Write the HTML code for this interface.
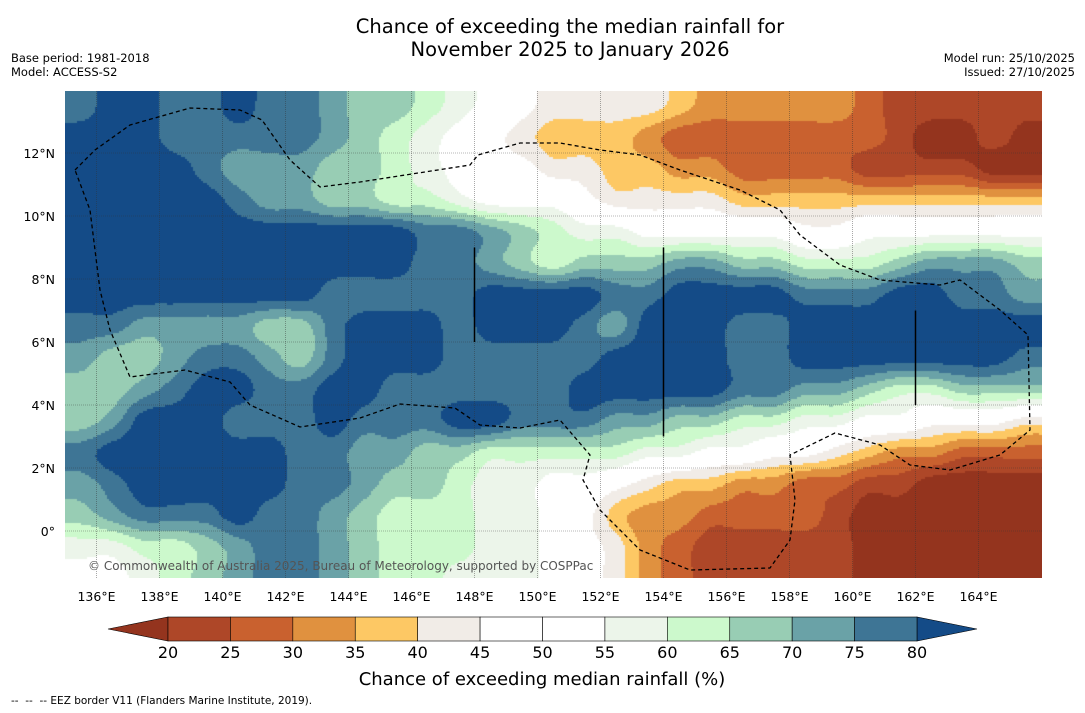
<!DOCTYPE html>
<html><head><meta charset="utf-8"><style>
body{margin:0;background:#fff;width:1085px;height:713px;overflow:hidden;font-family:"DejaVu Sans","Liberation Sans",sans-serif;}
.t{position:absolute;white-space:nowrap;color:#000}
</style></head><body>
<div class="t" style="left:0;width:1140px;text-align:center;top:15px;font-size:19.5px;line-height:23px">Chance of exceeding the median rainfall for<br>November 2025 to January 2026</div>
<div class="t" style="left:11px;top:51px;font-size:11.5px;line-height:14px">Base period: 1981-2018<br>Model: ACCESS-S2</div>
<div class="t" style="right:10px;top:51px;font-size:11.5px;line-height:14px;text-align:right">Model run: 25/10/2025<br>Issued: 27/10/2025</div>
<canvas id="map" width="977" height="487" style="position:absolute;left:65px;top:91px"></canvas>
<svg id="ov" width="1085" height="713" style="position:absolute;left:0;top:0"></svg>
<div class="t" style="left:11px;top:695px;font-size:10.5px">--&nbsp; --&nbsp; -- EEZ border V11 (Flanders Marine Institute, 2019).</div>
<script>
const lons=[135,136,137,138,139,140,141,142,143,144,145,146,147,148,149,150,151,152,153,154,155,156,157,158,159,160,161,162,163,164,165];
const lats=[13.5,12.5,11.5,10.5,9.5,8.5,7.5,6.5,5.5,4.5,3.5,2.5,1.5,0.5,-0.5,-1.5];
// probability class index (0:<20,1:20-25,...,13:>80) per lat row, lon 135..165
const r0=[12,13,13,12,12,13,12,12,11,10,10,9,8,7,6, 5,5,5,5,4,3,3,3,3,3,2,1,1,1,1,1];
const r1=[13,13,13,12,12,12,12,12,11,10,9,8,7,6,5, 4,4,4,3,2,2,2,2,2,2,2,1,0,0,1,0];
const r2=[13,13,13,13,12,11,11,11,10,10,9,8,7,6,6, 5,5,4,4,3,3,2,2,2,2,1,1,1,1,0,0];
const r3=[13,13,13,13,13,12,11,11,10,10,9,9,8,7,7, 7,6,5,5,5,5,4,4,4,4,4,4,4,4,4,4];
const r4=[13,13,13,13,13,13,13,13,13,13,13,12,12,11,10, 9,8,8,7,7,7,7,7,6,6,7,7,7,7,7,7];
const r5=[13,13,13,13,13,13,13,13,13,13,13,12,12,11,10, 9,10,10,10,11,11,10,10,9,9,9,10,11,11,11,10];
const r6=[13,13,13,13,13,13,13,13,12,12,12,12,12,13,13, 13,13,12,12,13,13,13,13,12,12,12,13,13,12,12,11];
const r7=[12,12,11,11,11,11,10,10,12,13,13,13,12,13,13, 13,12,11,13,13,13,12,12,13,13,13,13,13,13,13,13];
const r8=[11,10,10,11,12,12,11,10,12,13,13,13,12,12,12, 12,12,13,13,13,13,12,12,13,13,13,13,13,13,13,12];
const r9=[10,10,11,12,13,13,12,12,13,13,12,12,12,12,12, 12,13,13,13,13,13,12,12,11,11,10,9,9,10,10,10];
const r10=[10,11,13,13,13,12,12,12,13,12,12,12,13,13,12, 12,12,11,11,10,10,9,9,8,8,7,7,6,6,6,5];
const r11=[12,13,13,13,13,13,13,12,12,11,11,10,10,9,9, 9,9,9,8,8,7,7,6,6,5,4,3,3,2,2,2];
const r12=[11,12,13,13,13,13,13,12,12,11,10,10,9,8,8, 7,7,6,5,4,4,3,3,2,2,1,1,0,0,0,0];
const r13=[10,11,12,12,12,13,12,12,11,10,9,9,9,8,8, 7,6,4,3,3,2,2,2,2,1,0,0,0,0,0,0];
const r14=[8,8,9,9,10,11,12,12,11,10,9,9,9,8,8, 7,6,5,3,2,1,1,1,1,1,0,0,0,0,0,0];
const r15=[7,7,8,9,10,11,12,12,11,10,9,9,8,8,8, 7,6,5,3,2,1,1,1,1,1,0,0,0,0,0,0];
const rows=[r0,r1,r2,r3,r4,r5,r6,r7,r8,r9,r10,r11,r12,r13,r14,r15];
const cbTicks=[20,25,30,35,40,45,50,55,60,65,70,75,80];
const colors=["#94341e","#ae4728","#c9612f","#e0913f","#fdc864","#f1ece7","#ffffff","#ffffff","#ecf5ea","#ccf9cc","#98cdb4","#6aa2a7","#3e7595","#144b87"];
const lonTicks=[136,138,140,142,144,146,148,150,152,154,156,158,160,162,164];
const latTicks=[0,2,4,6,8,10,12];

const X0=65,Y0=91,W=977,H=487,PX=31.5;
const xs=lon=>X0+(lon-135)*PX;
const ys=lat=>531-lat*PX;
const NS="http://www.w3.org/2000/svg";
const svg=document.getElementById('ov');


const cv=document.getElementById('map');


const ctx=cv.getContext('2d');
function g(j,i){j=Math.max(0,Math.min(lats.length-1,j));i=Math.max(0,Math.min(lons.length-1,i));return 17.5+5*rows[j][i];}
function cr(p0,p1,p2,p3,t){return 0.5*((2*p1)+(-p0+p2)*t+(2*p0-5*p1+4*p2-p3)*t*t+(-p0+3*p1-3*p2+p3)*t*t*t);}
function val(lon,lat){
  const fi=lon-135.5, fj=13.5-lat;
  const i=Math.floor(fi),j=Math.floor(fj),a=fi-i,b=fj-j;
  const r=[];
  for(let k=-1;k<=2;k++) r.push(cr(g(j+k,i-1),g(j+k,i),g(j+k,i+1),g(j+k,i+2),a));
  return cr(r[0],r[1],r[2],r[3],b);
}
const S=2;
for(let py=0;py<H;py+=S){for(let px=0;px<W;px+=S){
  const lon=135+(px+S/2)/PX, lat=(531-(Y0+py+S/2))/PX;
  const v=val(lon,lat);
  let c=Math.floor((v-15)/5); c=Math.max(0,Math.min(13,c));
  ctx.fillStyle=colors[c]; ctx.fillRect(px,py,S,S);
}}
function el(tag,attrs,name,text){const e=document.createElementNS(NS,tag);for(const k in attrs)e.setAttribute(k,attrs[k]);
 
 
 if(text!==undefined)e.textContent=text;svg.appendChild(e);return e;}
const FF='DejaVu Sans, Liberation Sans, sans-serif';
lonTicks.forEach(l=>{const x=xs(l);el('line',{x1:x,y1:Y0,x2:x,y2:Y0+H,stroke:'#333','stroke-width':0.6,'stroke-dasharray':'1,1','stroke-opacity':0.7},'lon-gridline');
 el('text',{x:x,y:601,'font-size':12.5,'text-anchor':'middle','font-family':FF},'lon-tick-label',l+'°E');});
latTicks.forEach(l=>{const y=ys(l);el('line',{x1:X0,y1:y,x2:X0+W,y2:y,stroke:'#333','stroke-width':0.6,'stroke-dasharray':'1,1','stroke-opacity':0.7},'lat-gridline');
 el('text',{x:55,y:y+5,'font-size':12.5,'text-anchor':'end','font-family':FF},'lat-tick-label',l===0?'0°':l+'°N');});
[[148,9,6],[154,9,3],[162,7,4]].forEach(s=>el('line',{x1:xs(s[0]),y1:ys(s[1]),x2:xs(s[0]),y2:ys(s[2]),stroke:'#000','stroke-width':1.5},'boundary-line'));
const eez=[[75,170],[95,150],[130,125],[190,108],[240,110],[262,120],[290,160],[320,187],[360,182],[470,165],[478,155],[520,143],[560,143],[600,150],[640,155],[680,170],[740,190],[780,210],[800,235],[840,265],[880,280],[940,285],[960,280],[1000,310],[1028,335],[1030,430],[1000,455],[950,470],[910,465],[880,445],[835,433],[790,455],[795,500],[790,540],[770,568],[690,570],[640,550],[600,510],[583,480],[590,455],[560,420],[520,428],[480,425],[455,408],[400,404],[360,418],[300,427],[250,405],[230,382],[185,370],[130,377],[110,330],[100,290],[90,210],[75,170]];
el('polyline',{points:eez.map(p=>p.join(',')).join(' '),fill:'none',stroke:'#000','stroke-width':1.3,'stroke-dasharray':'4,3'},'eez-border');
el('text',{x:88,y:570,'font-size':12,fill:'#555','font-family':FF},'copyright-text','© Commonwealth of Australia 2025, Bureau of Meteorology, supported by COSPPac');
const cbx=v=>168+(v-20)*(917-168)/60;
el('polygon',{points:`108,629 168,617 168,641`,fill:colors[0],stroke:'#000','stroke-width':0.6},'colorbar-low-extend');
el('polygon',{points:`977,629 917,617 917,641`,fill:colors[13],stroke:'#000','stroke-width':0.6},'colorbar-high-extend');
for(let i=0;i<cbTicks.length-1;i++){
  el('rect',{x:cbx(cbTicks[i]),y:617,width:cbx(cbTicks[i+1])-cbx(cbTicks[i]),height:24,fill:colors[i+1],stroke:'#000','stroke-width':0.6},'colorbar-segment');
}
cbTicks.forEach(t=>el('text',{x:cbx(t),y:658,'font-size':16,'text-anchor':'middle','font-family':FF},'colorbar-tick-label',t));
el('text',{x:542,y:685,'font-size':18,'text-anchor':'middle','font-family':FF},'colorbar-title','Chance of exceeding median rainfall (%)');
</script>
</body></html>
